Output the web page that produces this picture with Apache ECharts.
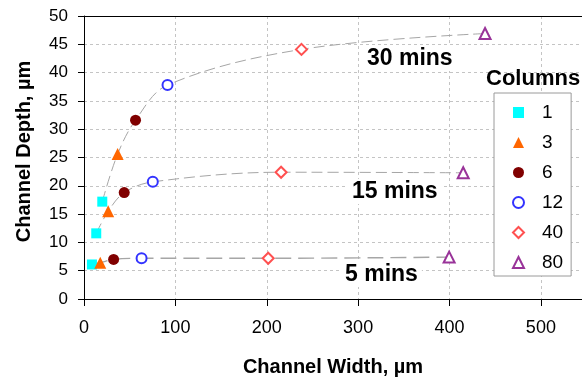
<!DOCTYPE html>
<html><head><meta charset="utf-8">
<script src="https://cdn.jsdelivr.net/npm/echarts@6/dist/echarts.min.js"></script>
<style>html,body{margin:0;padding:0;background:#fff}#c{width:582px;height:382px}</style>
</head><body><div id="c"></div>
<script>
// ---- data ----
const columns = ['1', '3', '6', '12', '40', '80'];
const timeLabels = ['5 mins', '15 mins', '30 mins'];
// channel width (µm) for each column count, per etch time
const width5  = [8.7, 17.8, 32.4, 63.0, 201.6, 399.6];
const width15 = [13.4, 26.5, 44.0, 75.3, 215.7, 415.0];
const width30 = [20.0, 36.8, 56.4, 91.4, 238.0, 438.9];
// channel depth (µm)
const depth5  = [6.1, 6.4, 7.0, 7.2, 7.2, 7.4];
const depth15 = [11.6, 15.5, 18.8, 20.7, 22.4, 22.3];
const depth30 = [17.2, 25.6, 31.6, 37.8, 44.1, 46.9];
const yTicks = [0, 5, 10, 15, 20, 25, 30, 35, 40, 45, 50];
const xTicks = [0, 100, 200, 300, 400, 500];

// ---- styles ----
const FONT = "'Liberation Sans', Arial, sans-serif";
const markerStyles = [
  { symbol: 'rect', size: 10, color: '#00FFFF' },
  { symbol: 'triangle', size: 12, color: '#FF6600' },
  { symbol: 'circle', size: 11, color: '#800000' },
  { symbol: 'emptyCircle', size: 10, color: '#3333FF' },
  { symbol: 'emptyDiamond', size: 11, color: '#FF5050' },
  { symbol: 'emptyTriangle', size: 11, color: '#993399' }
];
const widths = [width5, width15, width30];
const depths = [depth5, depth15, depth30];
const lineDash = [[16, 7], [11, 5], [11, 5]];
const lineWidth = [1.4, 1, 1];

const series = [];
timeLabels.forEach((t, k) => {
  series.push({
    type: 'line', name: t, smooth: 0.35, symbol: 'none', silent: true, z: 1,
    data: widths[k].map((w, i) => [w, depths[k][i]]),
    lineStyle: { color: '#a6a6a6', width: lineWidth[k], type: lineDash[k] }
  });
});
columns.forEach((c, i) => {
  const m = markerStyles[i];
  series.push({
    type: 'scatter', name: c, symbol: m.symbol, symbolSize: m.size, z: 3,
    data: widths.map((w, k) => [w[i], depths[k][i]]),
    itemStyle: { color: m.color, borderColor: m.color, borderWidth: m.symbol.startsWith('empty') ? 1 : 0, opacity: 1 }
  });
});

const labelFont = "bold 23px 'Liberation Sans', Arial";
const chart = echarts.init(document.getElementById('c'), null, { renderer: 'canvas' });
chart.setOption({
  backgroundColor: '#fff',
  animation: false,
  textStyle: { fontFamily: FONT },
  grid: { left: 84, right: 0, top: 16, bottom: 83 },
  xAxis: [{
    type: 'value', min: 0, max: 545, interval: 100,
    name: 'Channel Width, µm', nameLocation: 'middle', nameGap: 58,
    nameTextStyle: { fontFamily: FONT, fontSize: 20, fontWeight: 'bold', color: '#000' },
    axisLine: { show: true, lineStyle: { color: '#000', width: 1 } },
    axisTick: { show: true, inside: false, length: 7, lineStyle: { color: '#000' }, customValues: xTicks },
    axisLabel: { fontFamily: FONT, fontSize: 18, color: '#000', margin: 20, customValues: xTicks },
    splitLine: { show: true, lineStyle: { color: '#c4c4c4', type: [3, 3], width: 1 } }
  }, {
    type: 'value', position: 'top', min: 0, max: 545,
    axisLine: { show: true, onZero: false, lineStyle: { color: '#000', width: 1 } },
    axisTick: { show: false }, axisLabel: { show: false }, splitLine: { show: false }
  }],
  yAxis: {
    type: 'value', min: 0, max: 50, interval: 5,
    name: 'Channel Depth, µm', nameLocation: 'middle', nameGap: 50,
    nameTextStyle: { fontFamily: FONT, fontSize: 20, fontWeight: 'bold', color: '#000', padding: [0, 0, 0, 12] },
    axisLine: { show: true, lineStyle: { color: '#000', width: 1 } },
    axisTick: { show: true, inside: false, length: 6, lineStyle: { color: '#000' }, customValues: yTicks },
    axisLabel: { fontFamily: FONT, fontSize: 17, color: '#000', margin: 16, customValues: yTicks },
    splitLine: { show: true, lineStyle: { color: '#c4c4c4', type: [3, 3], width: 1 } }
  },
  legend: {
    data: columns, orient: 'vertical', left: 494, top: 93,
    itemWidth: 11, itemHeight: 11, itemGap: 11,
    padding: [10, 8, 4, 18],
    backgroundColor: '#fff', borderColor: '#9a9a9a', borderWidth: 1,
    textStyle: { fontFamily: FONT, fontSize: 19, color: '#000', padding: [0, 0, 0, 13] },
    selectedMode: false
  },
  graphic: [
    { type: 'text', z: 10, left: 486, top: 68, style: { text: 'Columns', font: "bold 22px 'Liberation Sans', Arial", fill: '#000' } },
    { type: 'text', z: 10, left: 363, top: 46, style: { text: '30 mins', font: labelFont, fill: '#000', backgroundColor: '#fff', padding: [1, 4] } },
    { type: 'text', z: 10, left: 348, top: 179, style: { text: '15 mins', font: labelFont, fill: '#000', backgroundColor: '#fff', padding: [1, 4] } },
    { type: 'text', z: 10, left: 341, top: 262, style: { text: '5 mins', font: labelFont, fill: '#000', backgroundColor: '#fff', padding: [1, 4] } }
  ],
  series: series
});
</script></body></html>
